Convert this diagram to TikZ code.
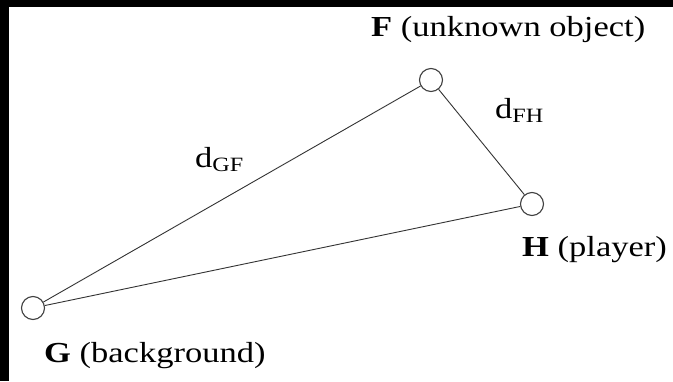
\documentclass[tikz,border=0pt]{standalone}
\usepackage{fontspec}
\setmainfont{Liberation Serif}
\newcommand{\wtxt}[1]{\scalebox{1.19}[1]{#1}}
\begin{document}
\begin{tikzpicture}[x=1pt,y=-1pt,
  vert/.style={circle,draw=black!75,line width=1.1pt,fill=white,minimum size=23pt,inner sep=0pt},
  edge/.style={draw=black!80,line width=0.9pt},
  lbl/.style={font=\fontsize{29}{34}\selectfont,inner sep=0pt,text=black,anchor=base west}]
\useasboundingbox (0,0) rectangle (673,381);
\fill[white] (0,0) rectangle (673,381);
\fill[black] (0,0) rectangle (673,7);
\fill[black] (0,0) rectangle (9,381);
\node[vert] (F) at (431,80) {};
\node[vert] (H) at (532,204) {};
\node[vert] (G) at (33,308) {};
\draw[edge] (G) -- (F);
\draw[edge] (F) -- (H);
\draw[edge] (G) -- (H);
\node[lbl] (tF) at (371,36) {\wtxt{\textbf{F} (unknown object)}};
\node[lbl] (tH) at (522,256) {\wtxt{\textbf{H} (player)}};
\node[lbl] (tG) at (44,362) {\wtxt{\textbf{G} (background)}};
\node[lbl] (dFH) at (495,118) {\wtxt{d\textsubscript{FH}}};
\node[lbl] (dGF) at (195,167) {\wtxt{d\textsubscript{GF}}};
\end{tikzpicture}
\end{document}
